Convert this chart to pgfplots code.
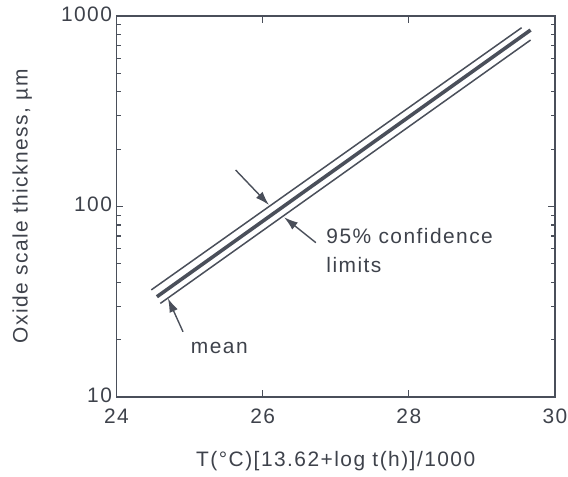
\documentclass[border=0pt]{standalone}
\usepackage{fontspec}
\setmainfont{Liberation Sans}[LetterSpace=7]
\usepackage{pgfplots}
\pgfplotsset{compat=1.18}
\usetikzlibrary{arrows.meta}
\definecolor{ink}{HTML}{4A4F5A}
\definecolor{txt}{HTML}{3E424B}
\begin{document}
\begin{tikzpicture}
\begin{axis}[
  name=ax, at={(0,0)}, anchor=south west,
  scale only axis, width=438.5bp, height=381bp,
  xmin=24, xmax=30, ymin=10, ymax=1000, ymode=log,
  xtick={24,26,28,30}, xticklabels={24,26,28,30},
  ytick={10,100,1000}, yticklabels={10,100,1000},
  axis line style={ink, line width=1.3pt},
  tick style={ink, line width=1.1pt},
  major tick length=7bp, minor tick length=4.5bp,
  tick align=inside,
  every tick label/.append style={font=\fontsize{21}{24}\selectfont, text=txt},
  yticklabel style={xshift=-1bp, yshift=2bp},
  xticklabel style={yshift=-8bp},
  xlabel={T(°C)[13.62+log t(h)]/1000},
  ylabel={Oxide scale thickness, µm},
  every axis x label/.style={at={(axis description cs:0.5,-0.183)}, anchor=base, font=\fontsize{21}{24}\selectfont, text=txt},
  every axis y label/.style={at={(axis description cs:-0.2025,0.5)}, rotate=90, anchor=base, font=\fontsize{21}{24}\selectfont, text=txt},
  clip=false,
]
\addplot[ink, line width=1.5pt] coordinates {(24.476,36.5) (29.543,868)};
\addplot[ink, line width=3.6pt] coordinates {(24.553,33.6) (29.666,844)};
\addplot[ink, line width=1.5pt] coordinates {(24.600,31.0) (29.666,748)};
\draw[ink, line width=1.4pt, -{Latex[length=14bp,width=9bp]}] (axis cs:25.630,155.4) -- (axis cs:26.087,101.8);
\draw[ink, line width=1.4pt, -{Latex[length=14bp,width=9bp]}] (axis cs:26.728,64.6) -- (axis cs:26.293,87.8);
\draw[ink, line width=1.4pt, -{Latex[length=14bp,width=9bp]}] (axis cs:24.910,22.0) -- (axis cs:24.703,33.0);
\node[anchor=west, text=txt, font=\fontsize{21}{24}\selectfont, inner sep=0pt] at (axis cs:26.87,70) {95\% confidence};
\node[anchor=west, text=txt, font=\fontsize{21}{24}\selectfont, inner sep=0pt] at (axis cs:26.87,49.3) {limits};
\node[anchor=west, text=txt, font=\fontsize{21}{24}\selectfont, inner sep=0pt] at (axis cs:25.016,18.1) {mean};
\end{axis}
\pgfresetboundingbox
\path (-116.5bp,-80bp) rectangle (451.5bp,397bp);
\end{tikzpicture}
\end{document}
